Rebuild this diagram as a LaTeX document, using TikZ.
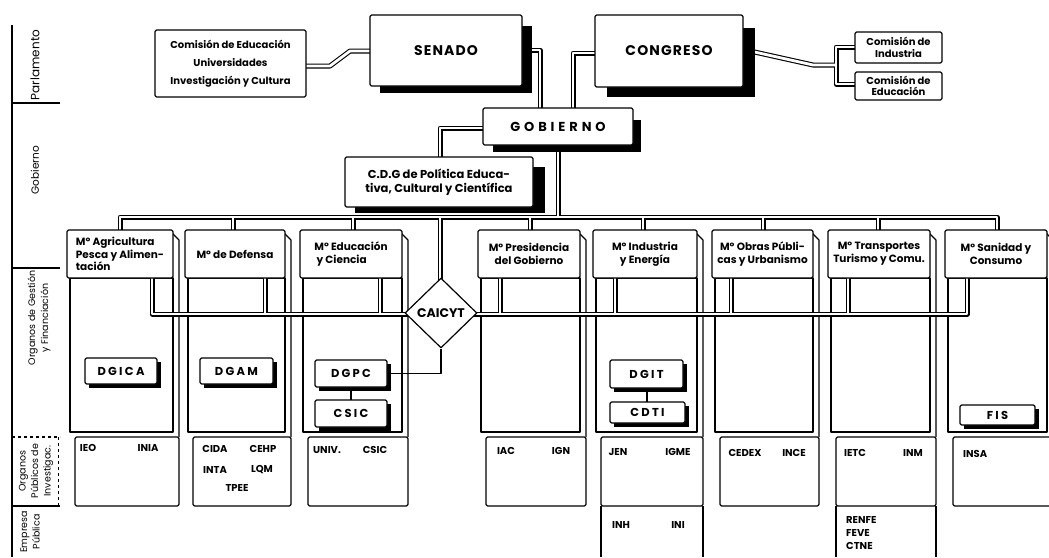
\documentclass[tikz,border=0pt]{standalone}
\usepackage{fontspec}
\setmainfont{Poppins}
\usetikzlibrary{shapes.geometric,calc}
\begin{document}
\begin{tikzpicture}[x=1pt,y=-1pt,line join=round,
  ln/.style={line width=1.1pt},
  box/.style={draw,line width=1.1pt,fill=white,inner sep=0pt,rounded corners=1.5pt},
  dblo/.style={line width=5pt,black},
  dbli/.style={line width=2.8pt,white},
  txt/.style={font=\bfseries\fontsize{10.5}{13}\selectfont},
  pub/.style={font=\bfseries\fontsize{10}{12}\selectfont,inner sep=0pt},
  big/.style={font=\bfseries\fontsize{14}{16}\selectfont\addfontfeature{LetterSpace=8}},
  ibox/.style={box,font=\bfseries\fontsize{11.5}{13}\selectfont\addfontfeature{LetterSpace=20}},
  side/.style={font=\fontsize{10.5}{12}\selectfont,rotate=90,inner sep=0pt,align=center},
]
\useasboundingbox (0,0) rectangle (1049,557);
\begin{scope}
\clip (0,0) rectangle (1049,557);

% left axis
\draw[ln] (12,25) -- (12,557);
\draw[ln] (12,103) -- (60,103);
\draw[ln] (12,268) -- (60,268);
\draw[ln,dashed] (12,437) -- (60,437);
\draw[line width=0.8pt,dashed] (58,437) -- (58,506);
\draw[ln] (12,506) -- (60,506);
\node[side,font=\fontsize{12}{14}\selectfont] (lparl) at (35,65) {Parlamento};
\node[side] (lgob) at (35,170) {Gobierno};
\node[side,font=\fontsize{9.5}{13}\selectfont] (lorg) at (39,318) {Organos de Gestión\\y Financiación};
\node[side,font=\fontsize{9.5}{12.5}\selectfont] (lopi) at (36,471) {Organos\\Públicos de\\Investigac.};
\node[side,font=\fontsize{9.5}{12.5}\selectfont] (lemp) at (30,532) {Empresa\\Pública};

% columns: bodies, side lines, public bodies
\foreach \L/\R in {67/173,185/285,300/402,478/580,593/697,712/813,828/930,945/1047}{
  \draw[ln] (\L+3,278) rectangle (\R,432);
  \draw[ln] (\R-4,230) -- (\R+6,240) -- (\R+6,437);
  \draw[ln,rounded corners=1.5pt] (\L+8,437) rectangle (\R+6,506);
}
% empresa publica
\draw[ln] (601,506) -- (601,557) (703,506) -- (703,557);
\draw[ln] (836,506) -- (836,557) (936,506) -- (936,557);

% double connectors
\foreach \s in {dblo,dbli}{
  \draw[\s] (306,66) -- (330,66) -- (350,51) -- (372,51);
  \draw[\s] (528,50) -- (540,50) -- (540,108);
  \draw[\s] (595,53) -- (573,53) -- (573,108);
  \draw[\s] (483,128) -- (440,128) -- (440,157);
  \draw[\s] (750,51) -- (813,65) -- (836,65);
  \draw[\s] (857,47) -- (836,47) -- (836,84) -- (857,84);
  \draw[\s] (558,145) -- (558,217);
  \draw[\s] (120,230) -- (120,217) -- (997,217) -- (997,230);
  \foreach \x in {233,353,530,643,763,878}{\draw[\s] (\x,217) -- (\x,230);}
  \draw[\s] (440,217) -- (440,282);
  \draw[\s] (152,278) -- (152,314) -- (408,314);
  \draw[\s] (474,314) -- (967,314) -- (967,278);
  \foreach \x in {265,380,500,615,731,848}{\draw[\s] (\x,278) -- (\x,314);}
}

% parliament
\node[box,minimum width=151pt,minimum height=67pt,align=center,font=\bfseries\fontsize{10}{18}\selectfont] (ceuic) at (230.5,63.5) {Comisión de Educación\\Universidades\\Investigación y Cultura};
\fill (380,26) rectangle (532,93);
\node[box,minimum width=152pt,minimum height=71pt,big] (senado) at (446,50.5) {SENADO};
\fill (607,28) rectangle (755,97);
\node[box,minimum width=148pt,minimum height=72pt,big] (congreso) at (669,51) {CONGRESO};
\node[box,minimum width=87pt,minimum height=31pt,align=center,font=\bfseries\fontsize{10}{11.5}\selectfont] (cind) at (898.5,47.5) {Comisión de\\Industria};
\node[box,minimum width=87pt,minimum height=28pt,align=center,font=\bfseries\fontsize{10}{11.5}\selectfont] (cedu) at (898.5,86) {Comisión de\\Educación};

% government
\fill (493,120) rectangle (641,152);
\node[box,minimum width=150pt,minimum height=37pt,font=\bfseries\fontsize{13}{15}\selectfont\addfontfeature{LetterSpace=30}] (gob) at (558,126.5) {GOBIERNO};
\fill (355,167) rectangle (545,213);
\node[box,minimum width=188pt,minimum height=50pt,align=center,font=\bfseries\fontsize{11.5}{14}\selectfont] (cdg) at (439,182) {C.D.G de Política Educa-\\tiva, Cultural y Científica};

% ministries
\node[box,txt,minimum width=106pt,minimum height=48pt,align=left,font=\bfseries\fontsize{10.5}{12.5}\selectfont] (m1) at (120,254) {Mº Agricultura\\Pesca y Alimen-\\tación};
\node[box,txt,minimum width=100pt,minimum height=48pt] (m2) at (235,254) {Mº de Defensa};
\node[box,txt,minimum width=102pt,minimum height=48pt,align=left] (m3) at (351,254) {Mº Educación\\\ y Ciencia};
\node[box,txt,minimum width=102pt,minimum height=48pt,align=center] (m4) at (529,254) {Mº Presidencia\\del Gobierno};
\node[box,txt,minimum width=104pt,minimum height=48pt,align=center] (m5) at (645,254) {Mº Industria\\y Energía};
\node[box,txt,minimum width=101pt,minimum height=48pt,align=center] (m6) at (762.5,254) {Mº Obras Públi-\\cas y Urbanismo};
\node[box,txt,minimum width=102pt,minimum height=48pt,align=center] (m7) at (879,254) {Mº Transportes\\Turismo y Comu.};
\node[box,txt,minimum width=102pt,minimum height=48pt,align=center] (m8) at (996,254) {Mº Sanidad y\\Consumo};

% CAICYT
\node[draw,line width=1.2pt,fill=white,shape=diamond,minimum width=72pt,minimum height=70pt,inner sep=0pt,font=\bfseries\fontsize{12.5}{14}\selectfont] (caicyt) at (441,313) {CAICYT};

% inner boxes
\fill (89,362) rectangle (161,388);
\node[ibox,minimum width=72pt,minimum height=26pt] (dgica) at (121,371) {DGICA};
\fill (204,362) rectangle (277,388);
\node[ibox,minimum width=73pt,minimum height=26pt] (dgam) at (236.5,371) {DGAM};
\draw[ln] (351,387) -- (351,400);
\draw[ln] (387,373.5) -| (caicyt.south);
\fill (319,364) rectangle (391,391);
\node[ibox,minimum width=72pt,minimum height=27pt] (dgpc) at (351,373.5) {DGPC};
\fill (319,404) rectangle (391,431);
\node[ibox,minimum width=72pt,minimum height=27pt] (csic) at (351,413.5) {CSIC};
\draw[ln] (647,388) -- (647,402);
\fill (614,364) rectangle (687,392);
\node[ibox,minimum width=73pt,minimum height=28pt] (dgit) at (646.5,374) {DGIT};
\fill (614,406) rectangle (689,427);
\node[ibox,minimum width=75pt,minimum height=21pt] (cdti) at (647.5,412.5) {CDTI};
\fill (964,409) rectangle (1039,429);
\node[ibox,minimum width=75pt,minimum height=20pt] (fis) at (997.5,415) {FIS};

% public research bodies
\node[pub] (ieo) at (88,448) {IEO};
\node[pub] (inia) at (148,448) {INIA};
\node[pub] (cida) at (215,449) {CIDA};
\node[pub] (cehp) at (263,449) {CEHP};
\node[pub] (inta) at (215,470) {INTA};
\node[pub] (lqm) at (262,470) {LQM};
\node[pub] (tpee) at (237,488) {TPEE};
\node[pub] (univ) at (327,450) {UNIV.};
\node[pub] (csic2) at (375,450) {CSIC};
\node[pub] (iac) at (506,451) {IAC};
\node[pub] (ign) at (561,451) {IGN};
\node[pub] (jen) at (618,452) {JEN};
\node[pub] (igme) at (678,452) {IGME};
\node[pub] (cedex) at (745,453) {CEDEX};
\node[pub] (ince) at (794,453) {INCE};
\node[pub] (ietc) at (855,453) {IETC};
\node[pub] (inm) at (913,453) {INM};
\node[pub,anchor=west] (insa) at (963,454) {INSA};
\node[pub] (inh) at (621,525) {INH};
\node[pub] (ini) at (678,525) {INI};
\node[pub,anchor=north west,align=left,font=\bfseries\fontsize{10}{13}\selectfont] (renfe) at (846,516) {RENFE\\FEVE\\CTNE};
\end{scope}
\end{tikzpicture}
\end{document}
